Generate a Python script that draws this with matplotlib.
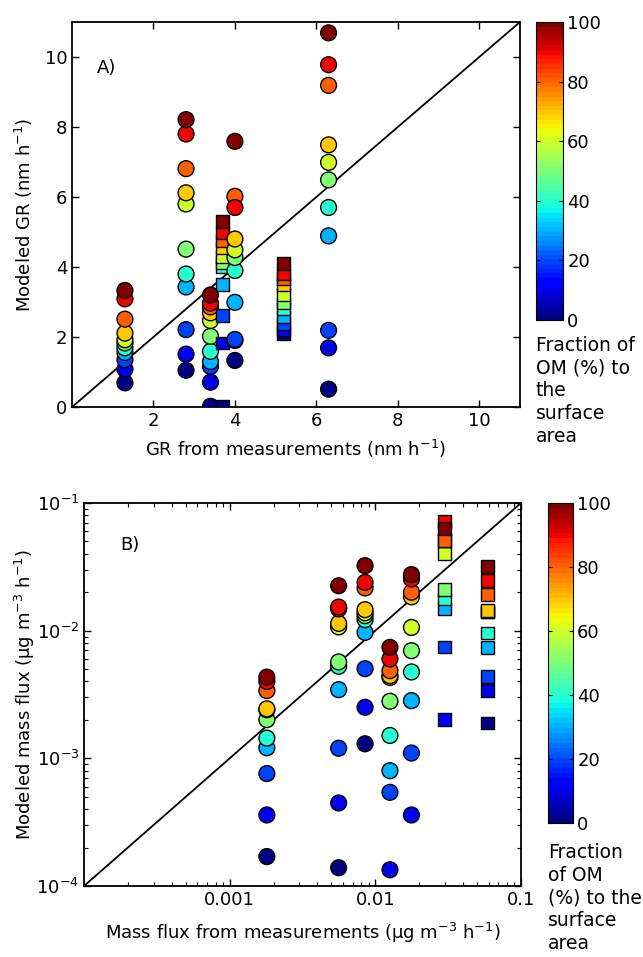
import numpy as np
import matplotlib
matplotlib.use("Agg")
import matplotlib.pyplot as plt
from matplotlib.ticker import FixedLocator, FixedFormatter, LogLocator, NullFormatter

plt.rcParams['font.family'] = ['DejaVu Sans']
plt.rcParams['mathtext.default'] = 'regular'

# fraction of OM (%) to the surface area, shared by every column
fraction = [0, 10, 20, 30, 40, 50, 60, 70, 80, 90, 100]

# Panel A: growth rates (nm h-1)
gr_meas = [1.3, 2.8, 3.4, 3.7, 4.0, 5.2, 6.3]
gr_marker = ['o', 'o', 'o', 's', 'o', 's', 'o']
gr_model = [
    [0.69, 1.08, 1.35, 1.56, 1.69, 1.83, 1.92, 2.11, 2.51, 3.09, 3.33],
    [1.05, 1.51, 2.21, 3.43, 3.80, 4.51, 5.80, 6.12, 6.81, 7.80, 8.21],
    [0.02, 0.71, 1.16, 1.30, 1.59, 2.02, 2.47, 2.69, 2.86, 2.97, 3.20],
    [0.02, 1.83, 2.61, 3.49, 4.02, 4.14, 4.30, 4.56, 4.75, 4.97, 5.30],
    [1.33, 1.90, 1.93, 2.99, 3.90, 4.27, 4.49, 4.80, 6.02, 5.70, 7.59],
    [2.11, 2.20, 2.37, 2.57, 2.81, 2.97, 3.21, 3.51, 3.67, 3.81, 4.09],
    [0.51, 1.69, 2.19, 4.89, 5.70, 6.49, 6.99, 7.49, 9.19, 9.78, 10.69],
]

# Panel B: mass fluxes (ug m-3 h-1); nan = below the plotted range
mf_meas = [0.0018, 0.0056, 0.0085, 0.0126, 0.0177, 0.030, 0.059]
mf_marker = ['o', 'o', 'o', 'o', 'o', 's', 's']
mf_model = [
    [1.7e-4, 3.6e-4, 7.6e-4, 1.21e-3, 1.44e-3, 2.01e-3, 2.40e-3, 2.44e-3, 3.39e-3, 4.0e-3, 4.33e-3],
    [1.39e-4, 4.47e-4, 1.2e-3, 3.45e-3, 5.26e-3, 5.69e-3, 1.07e-2, 1.14e-2, 1.48e-2, 1.53e-2, 2.25e-2],
    [1.30e-3, 2.51e-3, 5.04e-3, 9.7e-3, 1.22e-2, 1.31e-2, 1.38e-2, 1.46e-2, 2.16e-2, 2.39e-2, 3.23e-2],
    [np.nan, 1.34e-4, 5.42e-4, 8.0e-4, 1.51e-3, 2.8e-3, 4.3e-3, 4.44e-3, 4.86e-3, 6.0e-3, 7.4e-3],
    [np.nan, 3.6e-4, 1.1e-3, 2.83e-3, 4.75e-3, 6.97e-3, 1.06e-2, 1.84e-2, 2.0e-2, 2.54e-2, 2.75e-2],
    [np.nan, 2.01e-3, 7.45e-3, 1.48e-2, 1.77e-2, 2.09e-2, 4.0e-2, 5.05e-2, 5.1e-2, 7.2e-2, 6.3e-2],
    [1.89e-3, 3.39e-3, 4.39e-3, 7.4e-3, 9.6e-3, 1.40e-2, 1.42e-2, 1.44e-2, 1.91e-2, 2.48e-2, 3.19e-2],
]

cmap = plt.get_cmap('jet', 64)
fs = 13
W, H = 643, 957
fig = plt.figure(figsize=(W / 100, H / 100), dpi=100)


def px_axes(l, t, r, b):
    return fig.add_axes([l / W, 1 - b / H, (r - l) / W, (b - t) / H])


def style(ax):
    ax.tick_params(which='both', direction='in', top=True, right=True, labelsize=fs)
    ax.tick_params(which='major', length=5, width=1)
    ax.tick_params(which='minor', length=3, width=0.8)
    for s in ax.spines.values():
        s.set_linewidth(1.3)


def scatter_cols(ax, xs, markers, ys):
    for x, m, y in zip(xs, markers, ys):
        size = 130 if m == 'o' else 85
        ax.scatter(np.full(len(y), x), y, c=fraction, cmap=cmap, vmin=0, vmax=100,
                   marker=m, s=size, edgecolors='k', linewidths=1, zorder=3)


def add_cbar(sc, l, t, r, b, label, lab_top):
    cax = px_axes(l, t, r, b)
    cb = fig.colorbar(sc, cax=cax, ticks=[0, 20, 40, 60, 80, 100])
    cb.outline.set_linewidth(0.8)
    cax.tick_params(direction='in', length=3, labelsize=fs, left=True, right=True, pad=3)
    fig.text(l / W, 1 - lab_top / H, label, fontsize=13.5, ha='left', va='top',
             linespacing=1.25)


# ---------- panel A ----------
axA = px_axes(72, 22, 520, 407)
scatter_cols(axA, gr_meas, gr_marker, gr_model)
axA.plot([0, 11], [0, 11], color='k', lw=1.3, zorder=2)
axA.set_xlim(0, 11)
axA.set_ylim(0, 11)
axA.set_xticks([2, 4, 6, 8, 10])
axA.set_yticks([0, 2, 4, 6, 8, 10])
style(axA)
axA.set_xlabel('GR from measurements (nm h$^{-1}$)', fontsize=fs, labelpad=6)
axA.set_ylabel('Modeled GR (nm h$^{-1}$)', fontsize=fs)
axA.yaxis.set_label_coords(-0.083, 0.5)
axA.text(0.056, 0.88, 'A)', transform=axA.transAxes, fontsize=fs, va='center')
scA = axA.collections[0]
add_cbar(scA, 536, 22, 563, 320, 'Fraction of\nOM (%) to\nthe\nsurface\narea', 336)

# ---------- panel B ----------
axB = px_axes(84, 503, 521, 886)
scatter_cols(axB, mf_meas, mf_marker, mf_model)
axB.plot([1e-4, 1e-1], [1e-4, 1e-1], color='k', lw=1.3, zorder=2)
axB.set_xscale('log')
axB.set_yscale('log')
axB.set_xlim(1e-4, 1e-1)
axB.set_ylim(1e-4, 1e-1)
axB.xaxis.set_major_locator(FixedLocator([1e-3, 1e-2, 1e-1]))
axB.xaxis.set_major_formatter(FixedFormatter(['0.001', '0.01', '0.1']))
axB.xaxis.set_minor_locator(LogLocator(base=10, subs=np.arange(2, 10)))
axB.xaxis.set_minor_formatter(NullFormatter())
axB.yaxis.set_major_locator(FixedLocator([1e-4, 1e-3, 1e-2, 1e-1]))
axB.yaxis.set_minor_locator(LogLocator(base=10, subs=np.arange(2, 10)))
axB.yaxis.set_minor_formatter(NullFormatter())
style(axB)
axB.set_xlabel('Mass flux from measurements ($\\mu$g m$^{-3}$ h$^{-1}$)', fontsize=fs, labelpad=9)
axB.set_ylabel('Modeled mass flux ($\\mu$g m$^{-3}$ h$^{-1}$)', fontsize=fs)
axB.yaxis.set_label_coords(-0.108, 0.5)
axB.text(0.082, 0.89, 'B)', transform=axB.transAxes, fontsize=fs, va='center')
scB = axB.collections[0]
add_cbar(scB, 548, 503, 573, 823, 'Fraction\nof OM\n(%) to the\nsurface\narea', 843)

fig.savefig('out.png', dpi=100)
